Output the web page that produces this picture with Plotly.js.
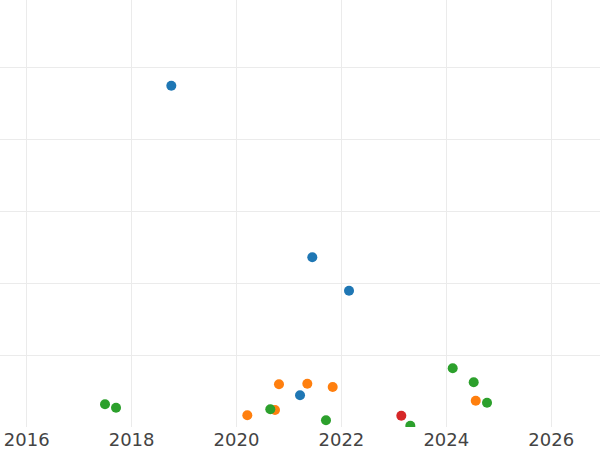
<!DOCTYPE html>
<html>
<head>
<meta charset="utf-8">
<script src="https://cdn.plot.ly/plotly-3.0.1.min.js"></script>
<style>html,body{margin:0;padding:0;background:#fff;}#chart{width:600px;height:450px;}</style>
</head>
<body>
<div id="chart"></div>
<script>
const blueX = [2018.757, 2021.445, 2022.145, 2021.211];
const blueY = [47.40, 23.57, 18.93, 4.40];
const orangeX = [2020.206, 2020.810, 2020.734, 2021.350, 2021.834, 2024.561];
const orangeY = [1.63, 5.93, 2.36, 6.01, 5.56, 3.65];
const greenX = [2017.493, 2017.703, 2020.644, 2021.706, 2024.122, 2024.522, 2024.776, 2023.314];
const greenY = [3.15, 2.68, 2.46, 0.93, 8.15, 6.21, 3.38, 0.18];
const redX = [2023.142];
const redY = [1.57];
const tickVals = [2016, 2018, 2020, 2022, 2024, 2026];
const tickText = ["2016", "2018", "2020", "2022", "2024", "2026"];

const colors = ["#1f77b4", "#ff7f0e", "#2ca02c", "#d62728"];
const series = [[blueX, blueY], [orangeX, orangeY], [greenX, greenY], [redX, redY]];
const data = series.map((s, i) => ({
  x: s[0], y: s[1], type: "scatter", mode: "markers",
  marker: {color: colors[i], size: 10},
  hoverinfo: "skip"
}));

const layout = {
  width: 600, height: 450,
  margin: {l: 0, r: 0, t: 0, b: 23},
  paper_bgcolor: "#ffffff", plot_bgcolor: "#ffffff",
  showlegend: false,
  font: {family: "DejaVu Sans", size: 18, color: "#444"},
  xaxis: {
    range: [2015.491, 2026.930],
    tickvals: tickVals, ticktext: tickText,
    showgrid: true, gridcolor: "#ebebeb", gridwidth: 1,
    zeroline: false, showline: false, ticks: "",
    tickfont: {family: "DejaVu Sans", size: 18, color: "#444"}
  },
  yaxis: {
    range: [0, 59.31], dtick: 10, tick0: 0,
    showgrid: true, gridcolor: "#ebebeb", gridwidth: 1,
    zeroline: false, showline: false, showticklabels: false, ticks: ""
  }
};
Plotly.newPlot("chart", data, layout, {displayModeBar: false, staticPlot: true});
</script>
</body>
</html>
